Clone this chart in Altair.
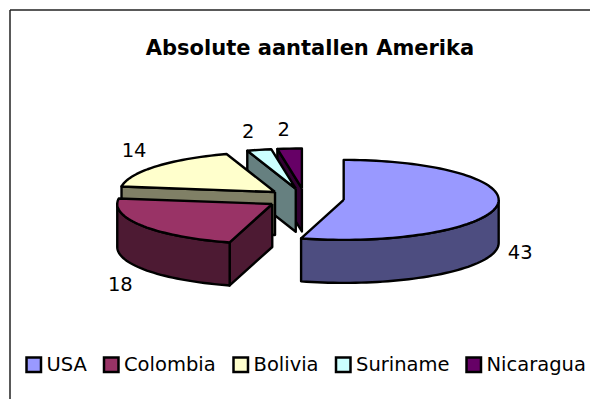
import math
import altair as alt
import pandas as pd

countries = ["USA", "Colombia", "Bolivia", "Suriname", "Nicaragua"]
values = [43, 18, 14, 2, 2]
top_colors = ["#9999FF", "#993366", "#FFFFCC", "#CCFFFF", "#660066"]
side_colors = ["#4D4D80", "#4D1A33", "#808066", "#668080", "#330033"]
paint_order = ["Nicaragua", "Suriname", "Bolivia", "USA", "Colombia"]
label_offsets = [(23, 48), (-22, 59), (-22, -15), (-11, -18), (-6, -19)]
title_text = "Absolute aantallen Amerika"

# pie geometry (pixels of the page)
CX, CY, A, B, DEPTH, EXPLODE = 305.0, 198.5, 155.0, 40.0, 43.0, 0.252
W, H = 582, 391


def pt(t):
    r = math.radians(t)
    return math.sin(r), -math.cos(r)


total = sum(values)
slices = {}
start = 0.0
for c, v in zip(countries, values):
    end = start + 360.0 * v / total
    mid = (start + end) / 2
    mx, my = pt(mid)
    slices[c] = dict(start=start, end=end, mid=mid,
                     ax=CX + EXPLODE * A * mx, ay=CY + EXPLODE * B * my)
    start = end

rows = []


def add_poly(key, pts):
    pts = list(pts) + [pts[0]]
    for i, (x, y) in enumerate(pts):
        rows.append(dict(key=key, x=x, y=y, i=i))


for c in paint_order:
    s = slices[c]
    ax, ay = s["ax"], s["ay"]
    side_key = c + " side"

    def rim(t):
        px, py = pt(t)
        return ax + A * px, ay + B * py

    def wall(t):
        x, y = rim(t)
        return [(ax, ay), (x, y), (x, y + DEPTH), (ax, ay + DEPTH)]

    part = 0
    if math.sin(math.radians(s["start"])) < -1e-6:
        add_poly(f"{side_key} {part}", wall(s["start"]))
        part += 1
    if math.sin(math.radians(s["end"])) > 1e-6:
        add_poly(f"{side_key} {part}", wall(s["end"]))
        part += 1
    lo, hi = max(s["start"], 90.0), min(s["end"], 270.0)
    if hi > lo:
        n = max(2, int((hi - lo) / 2) + 1)
        ts = [lo + (hi - lo) * k / (n - 1) for k in range(n)]
        upper = [rim(t) for t in ts]
        lower = [(x, y + DEPTH) for x, y in reversed(upper)]
        add_poly(f"{side_key} {part}", upper + lower)
    n = max(2, int((s["end"] - s["start"]) / 2) + 1)
    ts = [s["start"] + (s["end"] - s["start"]) * k / (n - 1) for k in range(n)]
    add_poly(c, [(ax, ay)] + [rim(t) for t in ts])

faces = pd.DataFrame(rows)
dom, rng = list(countries), list(top_colors)
for c, col in zip(countries, side_colors):
    for p in faces["key"].unique():
        if p.startswith(c + " side"):
            dom.append(p)
            rng.append(col)

x_scale = alt.Scale(domain=[8, 8 + W], range=[0, W], nice=False, zero=False)
y_scale = alt.Scale(domain=[8, 8 + H], range=[0, H], nice=False, zero=False)
X = alt.X("x:Q", scale=x_scale, axis=None)
Y = alt.Y("y:Q", scale=y_scale, axis=None)

pie = alt.Chart(faces).mark_line(stroke="black", strokeWidth=2.4, strokeJoin="round", interpolate="linear").encode(
    x=X, y=Y, order="i:Q", detail="key:N",
    fill=alt.Fill(
        "key:N",
        sort=None,
        scale=alt.Scale(domain=dom, range=rng),
        legend=alt.Legend(
            values=countries, title=None, orient="none", legendX=16, legendY=347,
            direction="horizontal", columns=5, symbolType="square", symbolSize=210,
            symbolStrokeColor="black", symbolStrokeWidth=2.5, labelFont="DejaVu Sans",
            labelFontSize=19.5, labelColor="black", columnPadding=11.5, labelOffset=3, labelLimit=300,
        ),
    ),
)

lab = []
for c, v, (dx, dy) in zip(countries, values, label_offsets):
    s = slices[c]
    px, py = pt(s["mid"])
    lab.append(dict(label=str(v), x=s["ax"] + A * px + dx, y=s["ay"] + B * py + dy))
labels = alt.Chart(pd.DataFrame(lab)).mark_text(
    font="DejaVu Sans", fontSize=19.5, color="black", align="center", baseline="middle"
).encode(x=X, y=Y, text="label:N")

title = alt.Chart(pd.DataFrame([dict(t=title_text, x=310, y=49)])).mark_text(
    font="DejaVu Sans", fontSize=21, fontWeight="bold", color="black", align="center", baseline="middle"
).encode(x=X, y=Y, text="t:N")

frame_top = alt.Chart(pd.DataFrame([dict(x=10, x2=8 + W, y=10)])).mark_rule(color="#222222", strokeWidth=1.5).encode(
    x=X, x2="x2:Q", y=Y)
frame_left = alt.Chart(pd.DataFrame([dict(x=10, y=10, y2=8 + H)])).mark_rule(color="#222222", strokeWidth=1.5).encode(
    x=X, y=Y, y2="y2:Q")

chart = alt.layer(frame_top, frame_left, pie, labels, title).properties(
    width=W, height=H, padding=0, autosize=alt.AutoSizeParams(type="none"), background="white"
).configure_view(stroke=None)

chart.save("out.html", embed_options={"renderer": "svg", "actions": False})
